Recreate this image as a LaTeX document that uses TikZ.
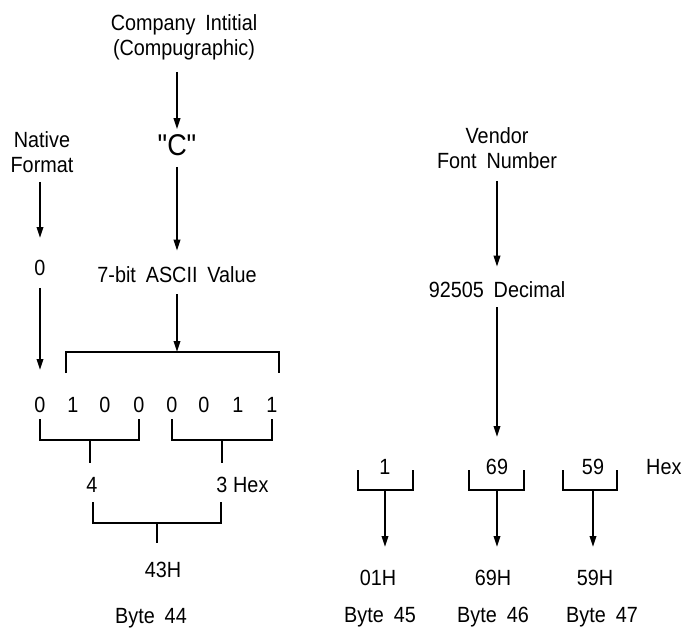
\documentclass[tikz,border=0pt]{standalone}
\usepackage{fontspec}
\setmainfont{Liberation Sans}[FakeStretch=0.9, WordSpace=1.8]
\newfontfamily\quotefont{Liberation Sans}[FakeStretch=0.9, Ligatures=TeXOff]
\usetikzlibrary{arrows.meta}

\tikzset{
  lbl/.style={inner sep=0pt, font=\fontsize{22}{25}\selectfont, align=center},
  arr/.style={-{Triangle[length=11pt,width=6.5pt]}, line width=1.8pt},
  brk/.style={line width=1.8pt},
}

\begin{document}
\begin{tikzpicture}[x=1pt,y=-1pt]
\useasboundingbox (0,0) rectangle (682,631);
% byte 44
\node[lbl] (company) at (184,37) {Company Intitial\\(Compugraphic)};
\node[lbl,font=\quotefont\fontsize{30}{32}\selectfont] (cq) at (177,145) {"C"};
\node[lbl] (native) at (42,152) {Native\\Format};
\node[lbl] (nat0) at (40,268) {0};
\node[lbl] (ascii) at (177,275) {7-bit ASCII Value};
\foreach \b/\x [count=\i] in {0/40,1/73,0/105,0/139,0/172,0/204,1/238,1/272}
  \node[lbl] (b\i) at (\x,405) {\b};
\node[lbl] (hex4) at (92,485) {4};
\node[lbl] (hex3) at (222,485) {3};
\node[lbl,anchor=west] (hexL) at (233,485) {Hex};
\node[lbl] (h43) at (163,570) {43H};
\node[lbl] (byte44) at (151,618) {Byte 44};
\coordinate (topbr) at (177,352);
\coordinate (stemL) at (90,440);
\coordinate (stemR) at (222,440);
\coordinate (stem43) at (157,523);
\draw[arr,shorten <=12pt,shorten >=5pt] (company.south -| cq) -- (cq.north);
\draw[arr,shorten <=11pt,shorten >=16pt] (cq.south) -- (ascii.north);
\draw[arr,shorten <=9pt,shorten >=22pt] (native.south -| nat0) -- (nat0.north);
\draw[arr,shorten <=12pt,shorten >=27pt] (nat0.south) -- (b1.north);
\draw[arr,shorten <=11pt] (ascii.south) -- (topbr);
\draw[brk] (66,373) |- (279,352) -- (279,373);
\draw[brk] (40,419) |- (139,440) -- (139,419);
\draw[brk] (172,419) |- (272,440) -- (272,419);
\draw[brk,shorten >=14pt] (stemL) -- (stemL |- hex4.north);
\draw[brk,shorten >=14pt] (stemR) -- (stemR |- hex3.north);
\draw[brk] (93,502) |- (221,523) -- (221,502);
\draw[brk,shorten >=19pt] (stem43) -- (stem43 |- h43.north);

% bytes 45 to 47
\node[lbl] (vendor) at (497,148) {Vendor\\Font Number};
\node[lbl] (decimal) at (497,290) {92505 Decimal};
\node[lbl] (v1) at (385,467) {1};
\node[lbl] (v69) at (497,467) {69};
\node[lbl] (v59) at (593,467) {59};
\node[lbl,anchor=west] (hexR) at (646,467) {Hex};
\node[lbl] (o1) at (378,578) {01H};
\node[lbl] (o69) at (493,578) {69H};
\node[lbl] (o59) at (595,578) {59H};
\node[lbl] (byte45) at (380,617) {Byte 45};
\node[lbl] (byte46) at (493,617) {Byte 46};
\node[lbl] (byte47) at (602,617) {Byte 47};
\coordinate (br1) at (385,490);
\coordinate (br69) at (497,490);
\coordinate (br59) at (593,490);
\draw[arr,shorten <=12pt,shorten >=15pt] (vendor.south) -- (decimal.north);
\draw[arr,shorten <=9pt,shorten >=22pt] (decimal.south) -- (v69.north);
\draw[brk] (358,470) |- (413,490) -- (413,470);
\draw[brk] (469,470) |- (524,490) -- (524,470);
\draw[brk] (563,470) |- (617,490) -- (617,470);
\draw[arr,shorten >=23pt] (br1) -- (br1 |- o1.north);
\draw[arr,shorten >=23pt] (br69) -- (br69 |- o69.north);
\draw[arr,shorten >=23pt] (br59) -- (br59 |- o59.north);
\end{tikzpicture}
\end{document}
